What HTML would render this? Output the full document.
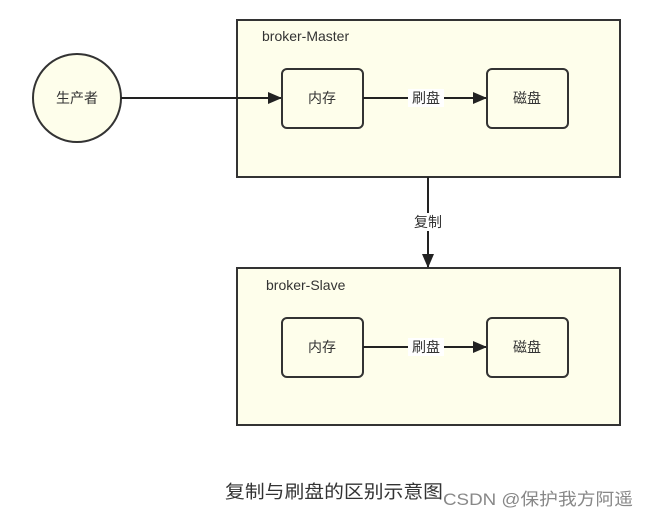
<!DOCTYPE html>
<html><head><meta charset="utf-8"><style>
body{margin:0;background:#fff;}
svg text{font-family:"Liberation Sans","Noto Sans CJK SC",sans-serif;}
</style></head><body>
<svg width="648" height="519" viewBox="0 0 648 519" xmlns="http://www.w3.org/2000/svg">
<defs><marker id="a" markerWidth="14" markerHeight="12" refX="13" refY="6" orient="auto" markerUnits="userSpaceOnUse"><path d="M0,0 L14,6 L0,12 Z" fill="#222"/></marker></defs>
<rect x="237" y="20" width="383" height="157" fill="#fefeeb" stroke="#333" stroke-width="2"/>
<rect x="237" y="268" width="383" height="157" fill="#fefeeb" stroke="#333" stroke-width="2"/>
<circle cx="77" cy="98" r="44" fill="#fefeeb" stroke="#333" stroke-width="2"/>
<text x="77" y="103" font-size="14" text-anchor="middle" fill="#333">生产者</text>
<text x="262" y="41" font-size="14" fill="#333">broker-Master</text>
<text x="266" y="290" font-size="14" fill="#333">broker-Slave</text>
<line x1="121" y1="98" x2="281" y2="98" stroke="#222" stroke-width="2" marker-end="url(#a)"/>
<rect x="282" y="69" width="81" height="59" rx="5" fill="#fefeeb" stroke="#333" stroke-width="2"/>
<rect x="487" y="69" width="81" height="59" rx="5" fill="#fefeeb" stroke="#333" stroke-width="2"/>
<text x="322" y="103" font-size="14" text-anchor="middle" fill="#333">内存</text>
<text x="527" y="103" font-size="14" text-anchor="middle" fill="#333">磁盘</text>
<line x1="363" y1="98" x2="486" y2="98" stroke="#222" stroke-width="2" marker-end="url(#a)"/>
<rect x="408" y="89" width="36" height="18" fill="#fff"/>
<text x="426" y="103" font-size="14" text-anchor="middle" fill="#333">刷盘</text>
<rect x="282" y="318" width="81" height="59" rx="5" fill="#fefeeb" stroke="#333" stroke-width="2"/>
<rect x="487" y="318" width="81" height="59" rx="5" fill="#fefeeb" stroke="#333" stroke-width="2"/>
<text x="322" y="352" font-size="14" text-anchor="middle" fill="#333">内存</text>
<text x="527" y="352" font-size="14" text-anchor="middle" fill="#333">磁盘</text>
<line x1="363" y1="347" x2="486" y2="347" stroke="#222" stroke-width="2" marker-end="url(#a)"/>
<rect x="408" y="338" width="36" height="18" fill="#fff"/>
<text x="426" y="352" font-size="14" text-anchor="middle" fill="#333">刷盘</text>
<line x1="428" y1="177" x2="428" y2="267" stroke="#222" stroke-width="2" marker-end="url(#a)"/>
<rect x="410" y="213" width="36" height="18" fill="#fff"/>
<text x="428" y="227" font-size="14" text-anchor="middle" fill="#333">复制</text>
<text x="225" y="498" font-size="18" fill="#333" textLength="218" lengthAdjust="spacingAndGlyphs">复制与刷盘的区别示意图</text>
<text x="443" y="505" font-size="17" fill="#888" textLength="190" lengthAdjust="spacingAndGlyphs">CSDN @保护我方阿遥</text>
</svg>
</body></html>
